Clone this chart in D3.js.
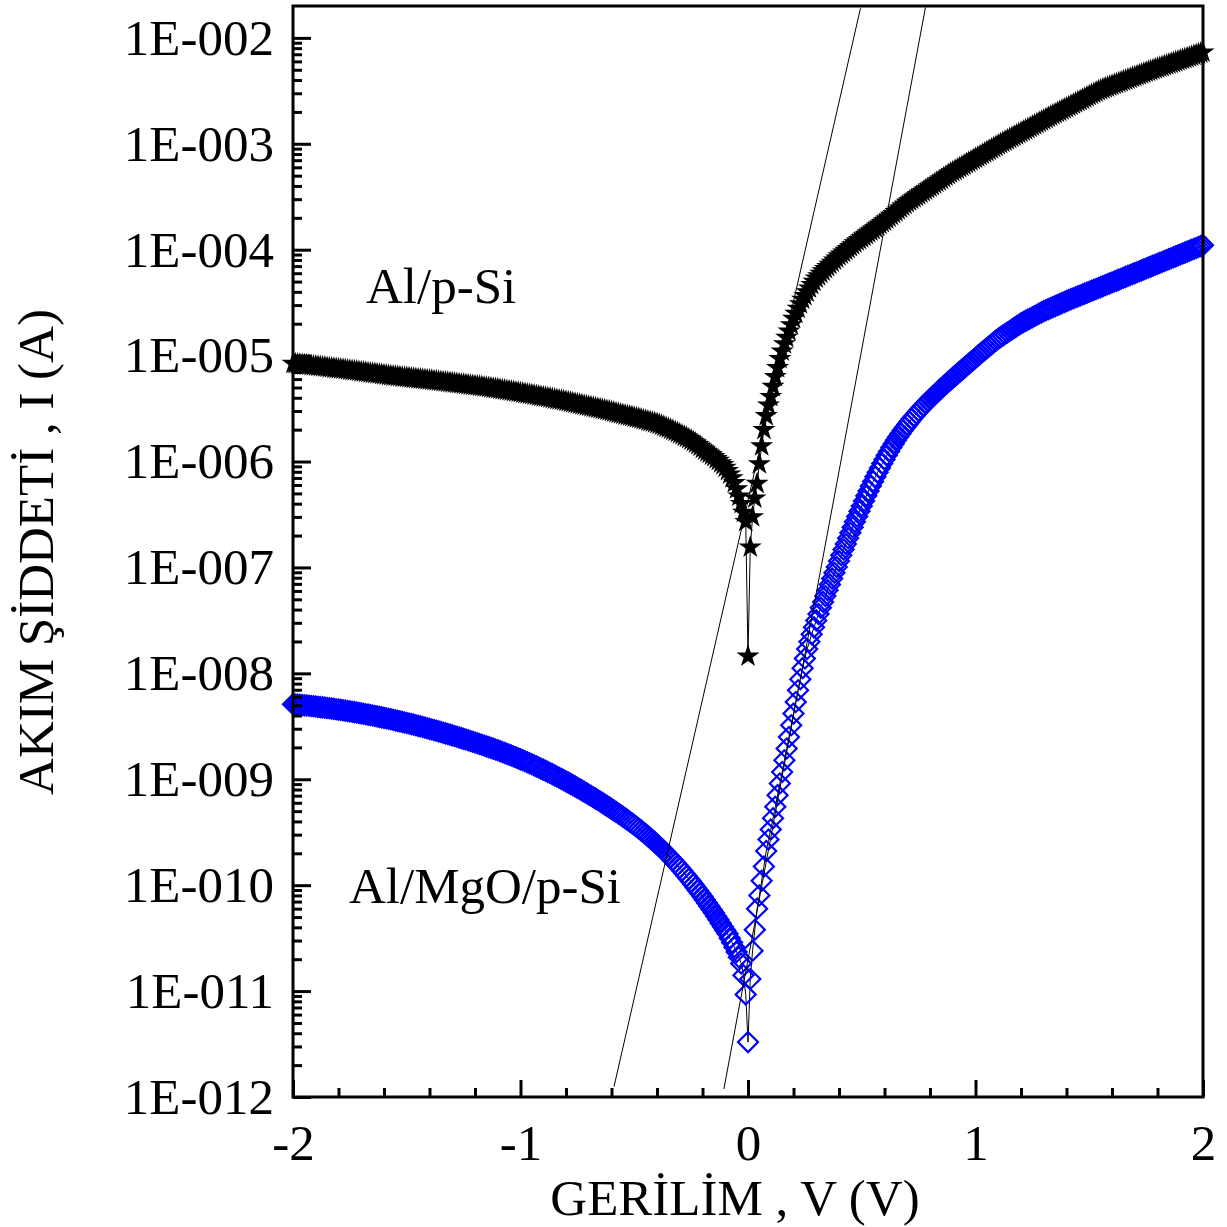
<!DOCTYPE html>
<html>
<head>
<meta charset="utf-8">
<script src="https://cdn.jsdelivr.net/npm/d3@7"></script>
<style>
  html, body { margin: 0; padding: 0; background: #fff; }
  svg { display: block; }
  text { font-family: "Liberation Serif", "Times New Roman", serif; fill: #000; }
</style>
</head>
<body>
<svg id="chart" width="1227" height="1227"></svg>
<script>
// Bias sweep (V), 10 mV steps
const voltage = [
  -2.00,-1.99,-1.98,-1.97,-1.96,-1.95,-1.94,-1.93,-1.92,-1.91,
  -1.90,-1.89,-1.88,-1.87,-1.86,-1.85,-1.84,-1.83,-1.82,-1.81,
  -1.80,-1.79,-1.78,-1.77,-1.76,-1.75,-1.74,-1.73,-1.72,-1.71,
  -1.70,-1.69,-1.68,-1.67,-1.66,-1.65,-1.64,-1.63,-1.62,-1.61,
  -1.60,-1.59,-1.58,-1.57,-1.56,-1.55,-1.54,-1.53,-1.52,-1.51,
  -1.50,-1.49,-1.48,-1.47,-1.46,-1.45,-1.44,-1.43,-1.42,-1.41,
  -1.40,-1.39,-1.38,-1.37,-1.36,-1.35,-1.34,-1.33,-1.32,-1.31,
  -1.30,-1.29,-1.28,-1.27,-1.26,-1.25,-1.24,-1.23,-1.22,-1.21,
  -1.20,-1.19,-1.18,-1.17,-1.16,-1.15,-1.14,-1.13,-1.12,-1.11,
  -1.10,-1.09,-1.08,-1.07,-1.06,-1.05,-1.04,-1.03,-1.02,-1.01,
  -1.00,-0.99,-0.98,-0.97,-0.96,-0.95,-0.94,-0.93,-0.92,-0.91,
  -0.90,-0.89,-0.88,-0.87,-0.86,-0.85,-0.84,-0.83,-0.82,-0.81,
  -0.80,-0.79,-0.78,-0.77,-0.76,-0.75,-0.74,-0.73,-0.72,-0.71,
  -0.70,-0.69,-0.68,-0.67,-0.66,-0.65,-0.64,-0.63,-0.62,-0.61,
  -0.60,-0.59,-0.58,-0.57,-0.56,-0.55,-0.54,-0.53,-0.52,-0.51,
  -0.50,-0.49,-0.48,-0.47,-0.46,-0.45,-0.44,-0.43,-0.42,-0.41,
  -0.40,-0.39,-0.38,-0.37,-0.36,-0.35,-0.34,-0.33,-0.32,-0.31,
  -0.30,-0.29,-0.28,-0.27,-0.26,-0.25,-0.24,-0.23,-0.22,-0.21,
  -0.20,-0.19,-0.18,-0.17,-0.16,-0.15,-0.14,-0.13,-0.12,-0.11,
  -0.10,-0.09,-0.08,-0.07,-0.06,-0.05,-0.04,-0.03,-0.02,-0.01,
  0.00,0.01,0.02,0.03,0.04,0.05,0.06,0.07,0.08,0.09,
  0.10,0.11,0.12,0.13,0.14,0.15,0.16,0.17,0.18,0.19,
  0.20,0.21,0.22,0.23,0.24,0.25,0.26,0.27,0.28,0.29,
  0.30,0.31,0.32,0.33,0.34,0.35,0.36,0.37,0.38,0.39,
  0.40,0.41,0.42,0.43,0.44,0.45,0.46,0.47,0.48,0.49,
  0.50,0.51,0.52,0.53,0.54,0.55,0.56,0.57,0.58,0.59,
  0.60,0.61,0.62,0.63,0.64,0.65,0.66,0.67,0.68,0.69,
  0.70,0.71,0.72,0.73,0.74,0.75,0.76,0.77,0.78,0.79,
  0.80,0.81,0.82,0.83,0.84,0.85,0.86,0.87,0.88,0.89,
  0.90,0.91,0.92,0.93,0.94,0.95,0.96,0.97,0.98,0.99,
  1.00,1.01,1.02,1.03,1.04,1.05,1.06,1.07,1.08,1.09,
  1.10,1.11,1.12,1.13,1.14,1.15,1.16,1.17,1.18,1.19,
  1.20,1.21,1.22,1.23,1.24,1.25,1.26,1.27,1.28,1.29,
  1.30,1.31,1.32,1.33,1.34,1.35,1.36,1.37,1.38,1.39,
  1.40,1.41,1.42,1.43,1.44,1.45,1.46,1.47,1.48,1.49,
  1.50,1.51,1.52,1.53,1.54,1.55,1.56,1.57,1.58,1.59,
  1.60,1.61,1.62,1.63,1.64,1.65,1.66,1.67,1.68,1.69,
  1.70,1.71,1.72,1.73,1.74,1.75,1.76,1.77,1.78,1.79,
  1.80,1.81,1.82,1.83,1.84,1.85,1.86,1.87,1.88,1.89,
  1.90,1.91,1.92,1.93,1.94,1.95,1.96,1.97,1.98,1.99,
  2.00
];

// Al/p-Si diode current, in microamperes
const currentAlSiMicroA = [
  8.41,8.37,8.32,8.28,8.23,8.18,8.13,8.09,8.04,8.00,
  7.95,7.91,7.86,7.82,7.77,7.72,7.67,7.63,7.58,7.54,
  7.49,7.45,7.40,7.36,7.31,7.26,7.21,7.17,7.12,7.08,
  7.03,6.99,6.94,6.89,6.84,6.80,6.75,6.71,6.66,6.62,
  6.57,6.53,6.48,6.44,6.40,6.37,6.33,6.30,6.26,6.23,
  6.20,6.17,6.13,6.10,6.06,6.03,5.99,5.96,5.93,5.90,
  5.86,5.83,5.79,5.76,5.72,5.69,5.66,5.63,5.59,5.56,
  5.52,5.49,5.45,5.42,5.39,5.36,5.32,5.29,5.25,5.22,
  5.19,5.16,5.12,5.09,5.05,5.02,4.98,4.95,4.91,4.88,
  4.84,4.80,4.76,4.72,4.68,4.65,4.61,4.57,4.53,4.50,
  4.46,4.42,4.38,4.34,4.30,4.27,4.23,4.19,4.15,4.11,
  4.07,4.04,4.00,3.96,3.92,3.88,3.84,3.81,3.77,3.73,
  3.69,3.66,3.62,3.58,3.54,3.50,3.46,3.43,3.39,3.35,
  3.31,3.28,3.24,3.21,3.17,3.14,3.10,3.07,3.03,3.00,
  2.96,2.92,2.88,2.85,2.81,2.78,2.74,2.71,2.68,2.65,
  2.61,2.58,2.55,2.52,2.48,2.45,2.41,2.38,2.35,2.32,
  2.28,2.24,2.19,2.15,2.10,2.06,2.01,1.97,1.92,1.87,
  1.82,1.78,1.73,1.69,1.64,1.59,1.54,1.49,1.44,1.39,
  1.33,1.28,1.23,1.19,1.15,1.11,1.06,1.02,0.97,0.93,
  0.88,0.82,0.76,0.70,0.63,0.55,0.47,0.40,0.33,0.27,
  0.0145,0.155,0.30,0.45,0.62,0.95,1.4,2.0,2.7,3.4,
  4.10,5.10,6.31,7.67,9.33,11.0,12.9,14.8,17.0,19.5,
  22.4,25.0,27.9,30.8,33.9,36.7,39.8,43.2,46.8,50.1,
  53.7,56.6,59.6,62.8,66.1,69.2,72.4,75.8,79.4,83.2,
  87.1,90.7,94.4,98.3,102.3,106.5,110.9,115.5,120.2,124.4,
  128.8,133.7,138.7,143.9,149.3,154.9,160.7,166.7,173.0,179.5,
  186.2,193.8,201.8,210.1,218.8,227.8,237.1,246.9,257.0,267.6,
  278.6,288.1,297.9,308.0,318.4,329.6,341.2,352.8,364.8,377.1,
  389.9,403.2,416.9,431.5,446.7,461.8,477.5,493.7,510.5,527.2,
  544.5,560.4,576.8,593.6,610.9,629.5,648.6,667.6,687.1,707.2,
  727.8,749.0,770.9,794.3,818.5,842.4,867.0,892.3,918.3,946.3,
  975.0,1002,1030,1059,1089,1118,1148,1180,1213,1247,
  1282,1317,1352,1390,1429,1468,1507,1549,1592,1637,
  1683,1728,1774,1822,1871,1921,1972,2025,2080,2133,
  2188,2247,2307,2369,2432,2495,2559,2628,2698,2770,
  2844,2921,2999,3077,3155,3229,3304,3366,3428,3496,
  3565,3631,3698,3771,3846,3917,3990,4069,4150,4227,
  4305,4385,4467,4555,4645,4731,4819,4909,5000,5087,
  5176,5266,5358,5451,5546,5643,5741,5841,5943,6046,
  6152,6259,6368,6479,6592,6706,6823,6942,7063,7186,
  7311
];

// Al/MgO/p-Si diode current, in nanoamperes
const currentAlMgOSiNanoA = [
  5.105,5.084,5.062,5.039,5.015,4.990,4.965,4.940,4.913,4.886,
  4.858,4.830,4.801,4.772,4.742,4.711,4.680,4.648,4.616,4.583,
  4.550,4.516,4.481,4.446,4.411,4.375,4.339,4.303,4.266,4.228,
  4.190,4.153,4.115,4.076,4.038,3.999,3.960,3.921,3.882,3.842,
  3.803,3.763,3.722,3.682,3.642,3.602,3.561,3.521,3.480,3.440,
  3.399,3.358,3.318,3.277,3.236,3.195,3.155,3.114,3.075,3.034,
  2.994,2.953,2.913,2.873,2.834,2.794,2.755,2.715,2.676,2.638,
  2.598,2.560,2.522,2.484,2.446,2.408,2.371,2.333,2.296,2.260,
  2.224,2.188,2.152,2.116,2.081,2.046,2.012,1.979,1.945,1.911,
  1.877,1.843,1.809,1.775,1.741,1.708,1.674,1.641,1.608,1.575,
  1.542,1.510,1.478,1.446,1.415,1.384,1.353,1.322,1.291,1.261,
  1.232,1.202,1.173,1.145,1.117,1.089,1.061,1.034,1.0076,0.9813,
  0.9554,0.9298,0.9047,0.8800,0.8558,0.8319,0.8085,0.7855,0.7629,0.7409,
  0.7191,0.6979,0.6770,0.6566,0.6367,0.6171,0.5979,0.5792,0.5608,0.5429,
  0.5254,0.5084,0.4917,0.4754,0.4595,0.4441,0.4285,0.4136,0.3989,0.3845,
  0.3703,0.3564,0.3426,0.3292,0.3160,0.3031,0.2905,0.2783,0.2663,0.2547,
  0.2433,0.2324,0.2217,0.2112,0.2009,0.1910,0.1813,0.1720,0.1629,0.1541,
  0.1457,0.1376,0.1297,0.1222,0.1150,0.1082,0.10156,0.09526,0.08925,0.08354,
  0.07808,0.07291,0.06802,0.06339,0.05899,0.05485,0.05093,0.04725,0.04378,0.04053,
  0.03747,0.0347,0.0316,0.0288,0.0260,0.0234,0.0209,0.0182,0.0141,0.0093,
  0.0033,0.013,0.024,0.038,0.060,0.080,0.11,0.15,0.21,0.27,
  0.335,0.429,0.550,0.708,0.912,1.17,1.51,1.95,2.51,3.24,
  4.17,5.37,6.92,8.80,11.2,13.8,17.0,19.9,23.4,27.2,
  31.6,36.3,41.7,47.3,53.7,61.0,69.2,78.5,89.1,101.1,
  114.8,130.2,147.5,166.9,188.5,212.6,239.4,269.4,302.6,339.5,
  380.2,425.1,474.2,527.9,586.1,649.4,717.8,791.4,871.0,956.1,
  1047,1144,1246,1354,1467,1585,1708,1834,1966,2101,
  2239,2381,2528,2681,2840,3002,3171,3344,3522,3704,
  3890,4082,4281,4488,4703,4925,5156,5396,5644,5900,
  6166,6442,6728,7027,7338,7663,8002,8354,8719,9099,
  9495,9954,10380,10810,11270,11750,12250,12760,13300,13870,
  14450,14940,15450,15980,16520,17080,17660,18260,18880,19520,
  20180,20720,21280,21850,22440,23040,23660,24290,24950,25610,
  26300,26890,27480,28090,28710,29340,29990,30650,31330,32020,
  32730,33420,34110,34810,35520,36240,36980,37740,38510,39300,
  40090,40920,41750,42600,43470,44360,45270,46190,47140,48100,
  49090,50090,51110,52160,53220,54330,55430,56560,57720,58900,
  60120,61340,62590,63870,65180,66510,67870,69260,70680,72120,
  73620,75120,76660,78220,79830,81470,83130,84840,86570,88340,
  90160,92000,93890,95810,97770,99770,101800,103900,106000,108200,
  110400
];

// Straight-line fits of the forward-bias region (end points: V, A)
const fitVoltageAlSi = [-0.589, 0.4945];
const fitCurrentAlSi = [1.253e-12, 1.905e-2];
const fitVoltageAlMgOSi = [-0.106, 0.780];
const fitCurrentAlMgOSi = [1.19e-12, 1.936e-2];

// Axis ticks
const xMajorTicks = [-2, -1, 0, 1, 2];
const xMinorTicks = [-1.8,-1.6,-1.4,-1.2,-0.8,-0.6,-0.4,-0.2,0.2,0.4,0.6,0.8,1.2,1.4,1.6,1.8];
const yMajorTicks = [1e-2,1e-3,1e-4,1e-5,1e-6,1e-7,1e-8,1e-9,1e-10,1e-11,1e-12];
const yMajorLabels = ["1E-002","1E-003","1E-004","1E-005","1E-006","1E-007","1E-008","1E-009","1E-010","1E-011","1E-012"];
const yMinorMantissas = [2,3,4,5,6,7,8,9];

const xLabel = "GERİLİM , V (V)";
const yLabel = "AKIM ŞİDDETİ , I (A)";
const seriesNames = ["Al/p-Si", "Al/MgO/p-Si"];

// ---- layout ----
const svg = d3.select("#chart");
const plot = { left: 293, right: 1203, top: 6, bottom: 1097 };
const fontSize = 51;

const x = d3.scaleLinear().domain([-2, 2]).range([plot.left, plot.right]);
const y = d3.scaleLog().domain([1e-12, 2e-2]).range([plot.bottom, plot.top]);

svg.append("rect").attr("width", 1227).attr("height", 1227).attr("fill", "#fff");

const yMinorTicks = [];
for (let e = -12; e <= -2; e++) {
  for (const m of yMinorMantissas) {
    const v = m * Math.pow(10, e);
    if (v < 2e-2) yMinorTicks.push(v);
  }
}

// ---- data marks (currents converted to amperes) ----
const ptsAlSi = voltage.map((v, i) => [v, currentAlSiMicroA[i] * 1e-6]);
const ptsMgO = voltage.map((v, i) => [v, currentAlMgOSiNanoA[i] * 1e-9]);
const line = d3.line().x(d => x(d[0])).y(d => y(d[1]));

const gData = svg.append("g");

gData.append("path").datum(ptsAlSi).attr("d", line)
  .attr("fill", "none").attr("stroke", "#000").attr("stroke-width", 1);
gData.append("g").selectAll("path").data(ptsAlSi).join("path")
  .attr("transform", d => `translate(${x(d[0])},${y(d[1])})`)
  .attr("d", d3.symbol().type(d3.symbolStar).size(165)())
  .attr("fill", "#000");

gData.append("path").datum(ptsMgO).attr("d", line)
  .attr("fill", "none").attr("stroke", "#000").attr("stroke-width", 1);
gData.append("g").selectAll("path").data(ptsMgO).join("path")
  .attr("transform", d => `translate(${x(d[0])},${y(d[1])}) rotate(45)`)
  .attr("d", d3.symbol().type(d3.symbolSquare).size(200)())
  .attr("fill", "none").attr("stroke", "#0000ff").attr("stroke-width", 2.2);

// fit lines
[[fitVoltageAlSi, fitCurrentAlSi], [fitVoltageAlMgOSi, fitCurrentAlMgOSi]].forEach(([vs, is]) => {
  svg.append("path").datum(vs.map((v, i) => [v, is[i]])).attr("d", line)
    .attr("fill", "none").attr("stroke", "#000").attr("stroke-width", 1);
});

// ---- axes ----
function styleAxis(g) {
  g.select(".domain").remove();
  g.selectAll(".tick line").attr("stroke", "#000").attr("stroke-width", 3);
  g.selectAll(".tick text").attr("font-family", '"Liberation Serif", "Times New Roman", serif')
    .attr("font-size", fontSize).attr("fill", "#000");
}

const yLabelMap = new Map(yMajorTicks.map((t, i) => [t, yMajorLabels[i]]));
svg.append("g").attr("transform", `translate(${plot.left},0)`)
  .call(d3.axisLeft(y).tickValues(yMinorTicks).tickSize(-9).tickFormat(""))
  .call(styleAxis);
svg.append("g").attr("transform", `translate(${plot.left},0)`)
  .call(d3.axisLeft(y).tickValues(yMajorTicks).tickSize(-18).tickPadding(19)
    .tickFormat(d => yLabelMap.get(d)))
  .call(styleAxis);

svg.append("g").attr("transform", `translate(0,${plot.bottom})`)
  .call(d3.axisBottom(x).tickValues(xMinorTicks).tickSize(-9).tickFormat(""))
  .call(styleAxis);
svg.append("g").attr("transform", `translate(0,${plot.bottom})`)
  .call(d3.axisBottom(x).tickValues(xMajorTicks).tickSize(-17).tickPadding(27)
    .tickFormat(d => d3.format("d")(d).replace("−", "-")))
  .call(styleAxis);

// frame
svg.append("rect")
  .attr("x", plot.left).attr("y", plot.top)
  .attr("width", plot.right - plot.left).attr("height", plot.bottom - plot.top)
  .attr("fill", "none").attr("stroke", "#000").attr("stroke-width", 3);

// ---- titles and labels ----
svg.append("text").attr("x", 735).attr("y", 1215)
  .attr("text-anchor", "middle").attr("font-size", fontSize).text(xLabel);
svg.append("text").attr("transform", "translate(53,552) rotate(-90)")
  .attr("text-anchor", "middle").attr("font-size", fontSize).text(yLabel);

svg.append("text").attr("x", 366).attr("y", 303).attr("font-size", fontSize).text(seriesNames[0]);
svg.append("text").attr("x", 349).attr("y", 903).attr("font-size", fontSize).text(seriesNames[1]);
</script>
</body>
</html>
